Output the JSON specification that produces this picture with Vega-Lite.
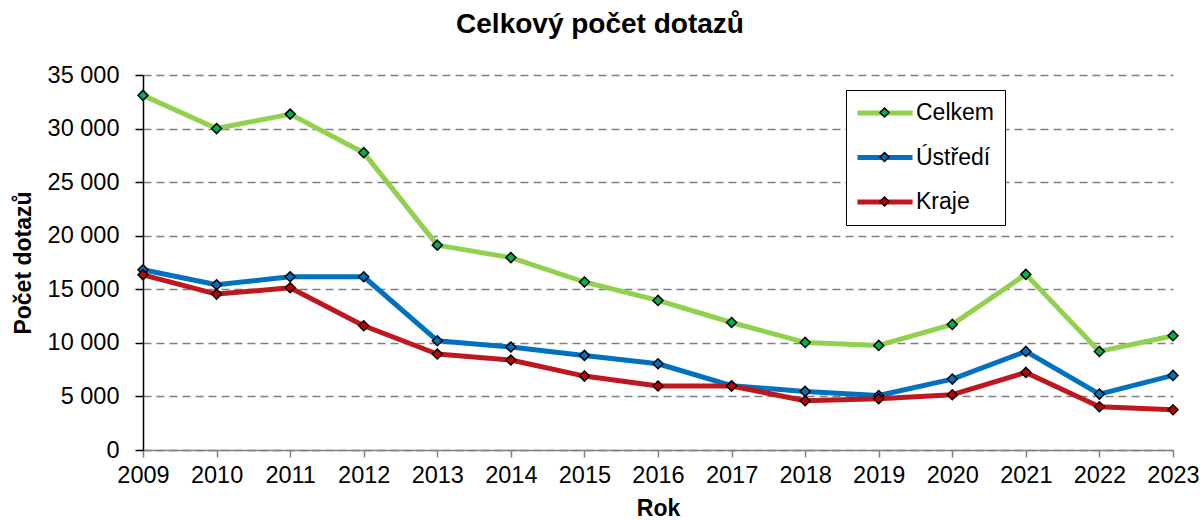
{
  "$schema": "https://vega.github.io/schema/vega-lite/v6.json",
  "width": 1030,
  "height": 375,
  "autosize": {"type": "none"},
  "padding": {"left": 143, "top": 75, "right": 27, "bottom": 70},
  "background": "white",
  "config": {"font": "Liberation Sans", "view": {"stroke": null}},
  "title": {"text": "Celkový počet dotazů", "fontSize": 28, "fontWeight": "bold", "color": "black", "anchor": "middle", "dx": -58, "offset": 24, "font": "Liberation Sans"},
  "resolve": {"legend": {"color": "independent", "fill": "independent"}, "scale": {"color": "independent", "fill": "independent"}},
  "data": {"values": [
    {"rok": 2009, "rada": "Celkem", "pocet": 33100},
    {"rok": 2010, "rada": "Celkem", "pocet": 30000},
    {"rok": 2011, "rada": "Celkem", "pocet": 31350},
    {"rok": 2012, "rada": "Celkem", "pocet": 27750},
    {"rok": 2013, "rada": "Celkem", "pocet": 19120},
    {"rok": 2014, "rada": "Celkem", "pocet": 17960},
    {"rok": 2015, "rada": "Celkem", "pocet": 15680},
    {"rok": 2016, "rada": "Celkem", "pocet": 13960},
    {"rok": 2017, "rada": "Celkem", "pocet": 11900},
    {"rok": 2018, "rada": "Celkem", "pocet": 10040},
    {"rok": 2019, "rada": "Celkem", "pocet": 9760},
    {"rok": 2020, "rada": "Celkem", "pocet": 11720},
    {"rok": 2021, "rada": "Celkem", "pocet": 16390},
    {"rok": 2022, "rada": "Celkem", "pocet": 9200},
    {"rok": 2023, "rada": "Celkem", "pocet": 10660},
    {"rok": 2009, "rada": "Ústředí", "pocet": 16820},
    {"rok": 2010, "rada": "Ústředí", "pocet": 15420},
    {"rok": 2011, "rada": "Ústředí", "pocet": 16170},
    {"rok": 2012, "rada": "Ústředí", "pocet": 16170},
    {"rok": 2013, "rada": "Ústředí", "pocet": 10200},
    {"rok": 2014, "rada": "Ústředí", "pocet": 9610},
    {"rok": 2015, "rada": "Ústředí", "pocet": 8830},
    {"rok": 2016, "rada": "Ústředí", "pocet": 8050},
    {"rok": 2017, "rada": "Ústředí", "pocet": 6000},
    {"rok": 2018, "rada": "Ústředí", "pocet": 5470},
    {"rok": 2019, "rada": "Ústředí", "pocet": 5090},
    {"rok": 2020, "rada": "Ústředí", "pocet": 6620},
    {"rok": 2021, "rada": "Ústředí", "pocet": 9200},
    {"rok": 2022, "rada": "Ústředí", "pocet": 5220},
    {"rok": 2023, "rada": "Ústředí", "pocet": 6960},
    {"rok": 2009, "rada": "Kraje", "pocet": 16350},
    {"rok": 2010, "rada": "Kraje", "pocet": 14550},
    {"rok": 2011, "rada": "Kraje", "pocet": 15140},
    {"rok": 2012, "rada": "Kraje", "pocet": 11600},
    {"rok": 2013, "rada": "Kraje", "pocet": 8960},
    {"rok": 2014, "rada": "Kraje", "pocet": 8400},
    {"rok": 2015, "rada": "Kraje", "pocet": 6900},
    {"rok": 2016, "rada": "Kraje", "pocet": 5970},
    {"rok": 2017, "rada": "Kraje", "pocet": 5970},
    {"rok": 2018, "rada": "Kraje", "pocet": 4600},
    {"rok": 2019, "rada": "Kraje", "pocet": 4790},
    {"rok": 2020, "rada": "Kraje", "pocet": 5160},
    {"rok": 2021, "rada": "Kraje", "pocet": 7240},
    {"rok": 2022, "rada": "Kraje", "pocet": 4040},
    {"rok": 2023, "rada": "Kraje", "pocet": 3760}
  ]},
  "encoding": {
    "x": {
      "field": "rok", "type": "quantitative",
      "scale": {"domain": [2009, 2023], "nice": false, "zero": false},
      "axis": {
        "title": "Rok", "values": [2009, 2010, 2011, 2012, 2013, 2014, 2015, 2016, 2017, 2018, 2019, 2020, 2021, 2022, 2023],
        "format": "d", "grid": false, "labelFlush": false, "labelOverlap": false,
        "domainColor": "#808080", "domainWidth": 1.5, "tickColor": "#808080", "tickSize": 7, "tickWidth": 1.5,
        "labelFontSize": 23.5, "labelColor": "black", "labelPadding": 6,
        "titleFontSize": 23, "titleFontWeight": "bold", "titleColor": "black", "titlePadding": 11
      }
    },
    "y": {
      "field": "pocet", "type": "quantitative",
      "scale": {"domain": [0, 35000], "nice": false},
      "axis": {
        "title": "Počet dotazů", "values": [0, 5000, 10000, 15000, 20000, 25000, 30000, 35000],
        "labelExpr": "replace(format(datum.value, ','), ',', ' ')",
        "grid": true, "gridDash": [8, 5], "gridColor": "#808080", "gridWidth": 1.5,
        "domainColor": "black", "domainWidth": 1.5, "tickColor": "black", "tickSize": 8, "tickWidth": 1.5,
        "labelFontSize": 23.5, "labelColor": "black", "labelPadding": 16,
        "titleFontSize": 23, "titleFontWeight": "bold", "titleColor": "black", "titlePadding": 12
      }
    }
  },
  "layer": [
    {
      "mark": {"type": "line", "strokeWidth": 5, "strokeJoin": "round"},
      "encoding": {
        "color": {
          "field": "rada", "type": "nominal",
          "scale": {"domain": ["Celkem", "Ústředí", "Kraje"], "range": ["#92D050", "#0070C0", "#C0171F"]},
          "legend": {
            "title": null, "orient": "none", "legendX": 703, "legendY": 15, "zindex": 0,
            "symbolType": "M-2.9,0H2.9", "symbolSize": 361, "symbolStrokeWidth": 5, "symbolOffset": 16,
            "labelFontSize": 23, "labelColor": "black", "labelOffset": 19,
            "labelExpr": "datum.label + '  '",
            "strokeColor": "black", "fillColor": "white", "padding": 11, "rowPadding": 20.5
          }
        }
      }
    },
    {
      "mark": {"type": "point", "shape": "diamond", "filled": true, "size": 100, "stroke": "black", "strokeWidth": 1.5, "opacity": 1},
      "encoding": {
        "fill": {
          "field": "rada", "type": "nominal",
          "scale": {"domain": ["Celkem", "Ústředí", "Kraje"], "range": ["#00B050", "#0070C0", "#C00000"]},
          "legend": {
            "title": null, "orient": "none", "legendX": 703, "legendY": 15, "zindex": 1,
            "symbolType": "M0,-0.47L0.47,0L0,0.47L-0.47,0Z", "symbolSize": 361, "symbolOffset": 16,
            "symbolStrokeColor": "black", "symbolStrokeWidth": 1.5, "symbolOpacity": 1,
            "labelFontSize": 23, "labelOpacity": 0, "labelOffset": 19,
            "padding": 11, "rowPadding": 20.5
          }
        }
      }
    }
  ]
}
